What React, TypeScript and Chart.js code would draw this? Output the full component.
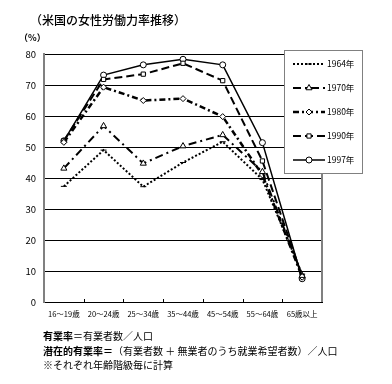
import React, { useEffect, useRef } from "react";
import { Chart, registerables } from "chart.js";
import { drawPoint } from "chart.js/helpers";

Chart.register(...registerables);

const categories = ["16～19歳", "20～24歳", "25～34歳", "35～44歳", "45～54歳", "55～64歳", "65歳以上"];
const seriesNames = ["1964年", "1970年", "1980年", "1990年", "1997年"];
const values1964 = [37.3, 49.0, 37.2, 45.0, 51.7, 39.5, 9.0];
const values1970 = [43.1, 56.8, 44.7, 50.3, 53.9, 42.0, 8.5];
const values1980 = [51.5, 69.3, 65.0, 65.6, 59.8, 41.0, 8.0];
const values1990 = [52.0, 71.8, 73.5, 77.0, 71.4, 45.5, 8.2];
const values1997 = [52.0, 73.2, 76.5, 78.3, 76.5, 51.4, 7.5];
const yMin = 0;
const yMax = 80;
const yStep = 10;

const FONT = '"Noto Sans CJK JP", "Noto Sans", sans-serif';

const legendPlugin = {
  id: "boxLegend",
  afterDatasetsDraw(chart: any) {
    const { ctx, chartArea } = chart;
    ctx.save();
    const n = categories.length;
    const w = (chartArea.right - chartArea.left) / n;
    ctx.strokeStyle = "#000";
    ctx.lineWidth = 1;
    ctx.setLineDash([]);
    for (let i = 1; i < n; i++) {
      const x = Math.round(chartArea.left + i * w) + 0.5;
      ctx.beginPath();
      ctx.moveTo(x, chartArea.bottom - 3);
      ctx.lineTo(x, chartArea.bottom);
      ctx.stroke();
    }
    ctx.strokeStyle = "#808080";
    ctx.lineWidth = 2;
    ctx.beginPath();
    ctx.moveTo(chartArea.right, chartArea.top);
    ctx.lineTo(chartArea.right, chartArea.bottom);
    ctx.stroke();
    ctx.restore();
  },
  afterDraw(chart: any) {
    const { ctx } = chart;
    ctx.save();
    const bx = 284, by = 50, bw = 78, bh = 123;
    ctx.fillStyle = "#fff";
    ctx.fillRect(bx, by, bw, bh);
    ctx.strokeStyle = "#808080";
    ctx.lineWidth = 1;
    ctx.setLineDash([]);
    ctx.strokeRect(bx + 0.5, by + 0.5, bw, bh);
    chart.data.datasets.forEach((ds: any, i: number) => {
      const y = 64 + i * 24;
      ctx.strokeStyle = ds.borderColor;
      ctx.lineWidth = ds.borderWidth;
      ctx.setLineDash(ds.borderDash || []);
      ctx.beginPath();
      ctx.moveTo(293, y);
      ctx.lineTo(325, y);
      ctx.stroke();
      ctx.setLineDash([]);
      ctx.fillStyle = "#fff";
      ctx.strokeStyle = "#000";
      ctx.lineWidth = 1;
      drawPoint(ctx, { pointStyle: ds.pointStyle, radius: ds.pointRadius, borderWidth: 1, rotation: 0 } as any, 309, y);
      ctx.fillStyle = "#000";
      ctx.font = `8.5px ${FONT}`;
      ctx.textBaseline = "middle";
      ctx.textAlign = "left";
      ctx.fillText(ds.label, 327, y);
    });
    ctx.restore();
  },
};

export default function App() {
  const ref = useRef<HTMLCanvasElement>(null);
  useEffect(() => {
    if (!ref.current) return;
    const common = {
      borderColor: "#000",
      pointBackgroundColor: "#fff",
      pointBorderColor: "#000",
      pointBorderWidth: 1,
      fill: false,
      tension: 0,
    };
    const chart = new Chart(ref.current, {
      type: "line",
      data: {
        labels: categories,
        datasets: [
          { ...common, label: seriesNames[0], data: values1964, borderWidth: 2, borderDash: [2, 2], pointStyle: "line", pointRadius: 3 },
          { ...common, label: seriesNames[1], data: values1970, borderWidth: 2, borderDash: [8, 4, 2, 4], pointStyle: "triangle", pointRadius: 3.5 },
          { ...common, label: seriesNames[2], data: values1980, borderWidth: 2.5, borderDash: [6, 3, 2, 3], pointStyle: "rectRot", pointRadius: 3 },
          { ...common, label: seriesNames[3], data: values1990, borderWidth: 2, borderDash: [8, 4], pointStyle: "rect", pointRadius: 3 },
          { ...common, label: seriesNames[4], data: values1997, borderWidth: 1.5, borderDash: [], pointStyle: "circle", pointRadius: 3 },
        ],
      } as any,
      options: {
        responsive: false,
        animation: false,
        layout: { padding: { top: 54, right: 70, left: 0, bottom: 0 } },
        plugins: { legend: { display: false }, tooltip: { enabled: false }, title: { display: false } },
        scales: {
          x: {
            offset: true,
            grid: { display: false, drawTicks: false },
            border: { display: true, color: "#000", width: 1 },
            ticks: { font: { size: 7.5, family: FONT }, color: "#000", maxRotation: 0, minRotation: 0, autoSkip: false, padding: 8 },
            afterFit: (s: any) => { s.height = 82; },
          },
          y: {
            min: yMin,
            max: yMax,
            ticks: { stepSize: yStep, font: { size: 9.5, family: FONT }, color: "#000", padding: 8 },
            grid: { color: "#000", lineWidth: 1, drawTicks: false },
            border: { display: true, color: "#808080", width: 2 },
            afterFit: (s: any) => { s.width = 44; },
          },
        },
      } as any,
      plugins: [legendPlugin],
    });
    return () => chart.destroy();
  }, []);

  const textStyle: React.CSSProperties = {
    position: "absolute",
    fontFamily: FONT,
    color: "#000",
    whiteSpace: "nowrap",
    lineHeight: "16px",
    height: 16,
  };

  return (
    <div style={{ position: "absolute", left: 0, top: 0, width: 392, height: 384, background: "#fff" }}>
      <canvas ref={ref} width={392} height={384} style={{ position: "absolute", left: 0, top: 0, width: 392, height: 384 }} />
      <div style={{ ...textStyle, left: 30, top: 12, fontSize: 12, fontWeight: 500 }}>（米国の女性労働力率推移）</div>
      <div style={{ ...textStyle, left: 19, top: 30, fontSize: 9, fontWeight: 700 }}>（%）</div>
      <div style={{ ...textStyle, left: 43, top: 328, fontSize: 10 }}>
        <b>有業率</b>＝有業者数／人口
      </div>
      <div style={{ ...textStyle, left: 43, top: 343, fontSize: 10 }}>
        <b>潜在的有業率＝</b>（有業者数 ＋ 無業者のうち就業希望者数）／人口
      </div>
      <div style={{ ...textStyle, left: 43, top: 357, fontSize: 10 }}>※それぞれ年齢階級毎に計算</div>
    </div>
  );
}
